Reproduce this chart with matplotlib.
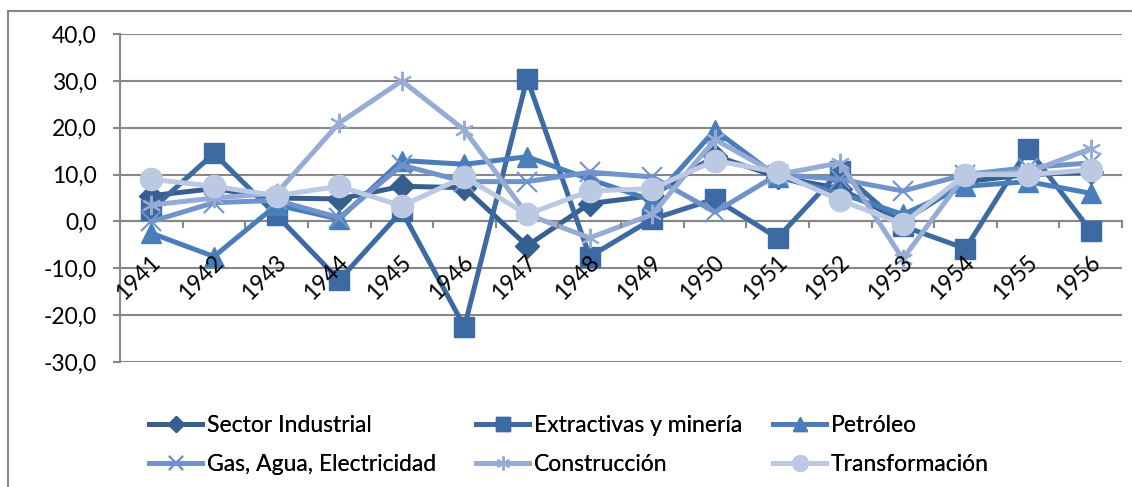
import matplotlib
matplotlib.use("Agg")
import matplotlib.pyplot as plt
import matplotlib.transforms as mtransforms
from matplotlib.patches import Rectangle
from matplotlib.ticker import FuncFormatter
import numpy as np

plt.rcParams['font.family'] = ['Lato', 'DejaVu Sans']

years = [str(y) for y in range(1941, 1957)]

sector_industrial = [5.5, 7.0, 5.0, 4.8, 7.5, 7.2, -5.2, 3.8, 5.5, 14.0, 9.5, 7.0, 0.0, 8.5, 10.0, 10.5]
extractivas = [2.5, 14.5, 1.3, -12.5, 2.2, -22.5, 30.5, -7.5, 0.5, 4.8, -3.5, 10.8, -1.0, -5.8, 15.5, -2.0]
petroleo = [-2.5, -7.5, 3.5, 0.5, 13.0, 12.2, 13.8, 9.0, 4.5, 19.5, 9.5, 6.0, 1.5, 7.5, 8.5, 6.0]
gas_agua = [0.0, 4.0, 4.5, 0.8, 12.0, 8.5, 8.5, 10.5, 9.5, 2.0, 10.0, 9.0, 6.5, 10.0, 11.5, 12.5]
construccion = [3.5, 5.0, 6.0, 21.0, 30.0, 19.5, 1.5, -3.5, 1.5, 17.5, 10.0, 12.5, -8.0, 10.0, 10.5, 15.5]
transformacion = [9.0, 7.5, 5.5, 7.5, 3.3, 9.5, 1.5, 6.5, 7.0, 13.0, 10.5, 4.5, -0.5, 10.0, 10.0, 11.0]

series = [
    ("Sector Industrial", sector_industrial, "#365f91", "D", 12),
    ("Extractivas y minería", extractivas, "#3d6aa2", "s", 14),
    ("Petróleo", petroleo, "#4a7ebb", "^", 14),
    ("Gas, Agua, Electricidad", gas_agua, "#7093cb", "x", 14),
    ("Construcción", construccion, "#96abd5", (6, 2, 0), 14),
    ("Transformación", transformacion, "#bcc9e2", "o", 16),
]

grid_col = "#878787"

fig = plt.figure(figsize=(11.32, 4.87), dpi=100)
ax = fig.add_axes([120/1132, 1 - 362/487, (1122-120)/1132, (362-34)/487])

x = np.arange(len(years))
handles = []
for name, vals, col, mk, ms in series:
    mew = 1.5 if mk in ("x", (6, 2, 0)) else 1
    h, = ax.plot(x, vals, color=col, lw=3.6, marker=mk, ms=ms, mec=col, mfc=col,
                 mew=mew, label=name, solid_joinstyle='round')
    handles.append(h)

ax.set_xlim(-0.5, len(years) - 0.5)
ax.set_ylim(-30, 40)
ax.set_yticks(np.arange(-30, 41, 10))
ax.yaxis.set_major_formatter(FuncFormatter(lambda v, p: f"{v:.1f}".replace(".", ",")))
ax.grid(axis='y', color=grid_col, lw=1.5)
ax.set_axisbelow(True)
# year labels sit over the lines, gridlines stay under them
ax.xaxis.set_zorder(3)

for s in ['top', 'right']:
    ax.spines[s].set_visible(False)
ax.spines['left'].set_color(grid_col)
ax.spines['left'].set_linewidth(1.5)
ax.spines['bottom'].set_position(('data', 0))
ax.spines['bottom'].set_color(grid_col)
ax.spines['bottom'].set_linewidth(1.5)
ax.spines['bottom'].set_zorder(1)

ax.tick_params(axis='y', length=5, width=1.5, color=grid_col, pad=12, labelsize=16.5)
ax.set_xticks(x)
ax.set_xticklabels(years, rotation=45, ha='right', va='center', rotation_mode='anchor')
ax.tick_params(axis='x', which='major', length=0, pad=27, labelsize=16.5)
shift = mtransforms.ScaledTranslation(6/100, 0, fig.dpi_scale_trans)
for lbl in ax.get_xticklabels():
    lbl.set_transform(lbl.get_transform() + shift)
ax.set_xticks(np.arange(-0.5, len(years), 1), minor=True)
ax.tick_params(axis='x', which='minor', length=5, width=1.5, color=grid_col, direction='out')

# one legend per column, rows: (0,3), (1,4), (2,5)
for col_i, xpx in enumerate([138, 465, 762]):
    lg = fig.legend(handles=[handles[col_i], handles[col_i + 3]],
                    loc='upper left', bbox_to_anchor=(xpx/1132, 1 - 404/487),
                    frameon=False, fontsize=16.5, handlelength=2.3, handletextpad=0.2,
                    labelspacing=0.75, markerscale=0.7, borderpad=0)
    fig.add_artist(lg)

fig.patches.append(Rectangle((8/1132, -0.1), 1.2, (487-11)/487 + 0.1, transform=fig.transFigure,
                             fill=False, edgecolor=grid_col, lw=1.5, figure=fig))

fig.savefig("out.png", dpi=100)
